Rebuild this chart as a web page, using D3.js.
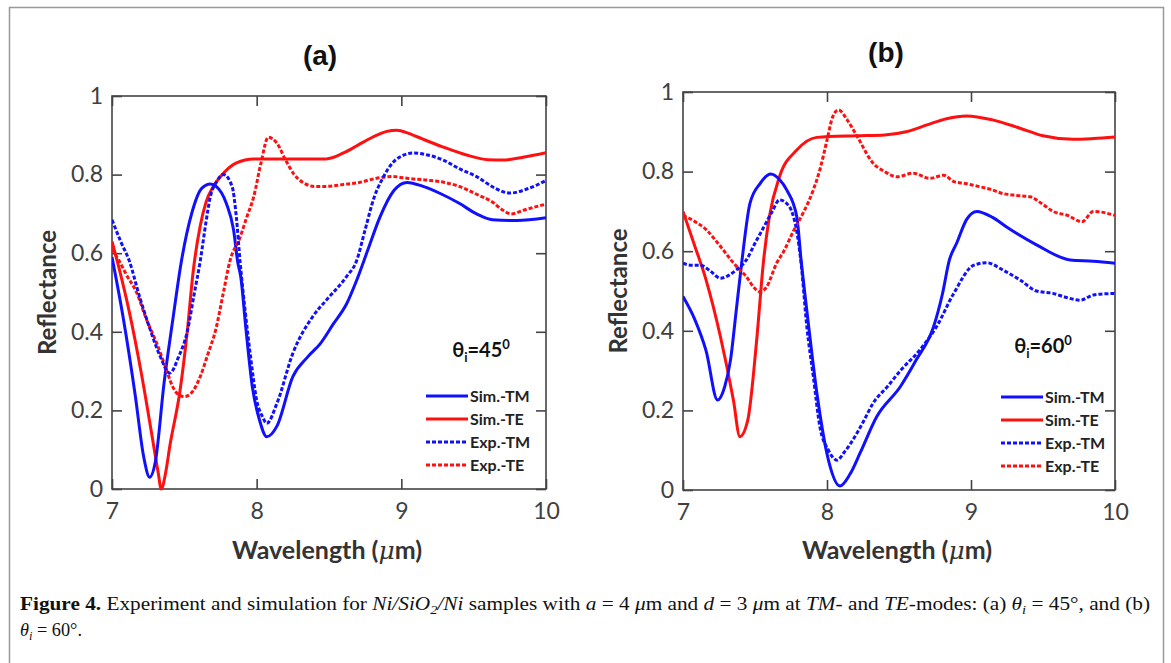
<html>
<head>
  <meta charset="utf8">
  <title>Figure 4</title>
  <style>
  * { margin: 0; padding: 0; }
  body { background: #fff; }
  .frame { fill: none; stroke: #999; stroke-width: 1.5px; }
  .box { fill: none; stroke: #444; stroke-width: 1.6px; }
  .axis path { display: none; }
  .axis line { stroke: #444; stroke-width: 1.6px; }
  .axis text { font-family: Lato, sans-serif; font-size: 23px; fill: #404040; }
  .curve { fill: none; stroke-width: 3px; }
  .dotted { stroke-dasharray: 4 2; }
  </style>
</head>
<body>
<script src="https://cdn.jsdelivr.net/npm/d3@7"></script>
<script>

// ---- data ----
var xTicks = [7, 8, 9, 10]
var yTicks = [0, 0.2, 0.4, 0.6, 0.8, 1]
var legendLabels = ['Sim.-TM', 'Sim.-TE', 'Exp.-TM', 'Exp.-TE']

// (a) theta = 45
var simTM_a_x = [7.00,7.08,7.16,7.22,7.26,7.30,7.36,7.42,7.48,7.55,7.62,7.68,7.72,7.79,7.84,7.87,7.89,7.925,7.97,8.02,8.07,8.14,8.25,8.35,8.44,8.53,8.62,8.69,8.77,8.85,8.95,9.04,9.15,9.28,9.40,9.52,9.63,9.80,10.0]
var simTM_a_y = [0.59,0.43,0.24,0.08,0.03,0.07,0.27,0.43,0.58,0.70,0.765,0.776,0.77,0.727,0.66,0.575,0.54,0.41,0.26,0.175,0.133,0.16,0.286,0.335,0.37,0.42,0.47,0.53,0.61,0.69,0.76,0.78,0.77,0.75,0.727,0.70,0.685,0.683,0.69]

var simTE_a_x = [7.00,7.05,7.12,7.20,7.27,7.32,7.34,7.37,7.40,7.47,7.52,7.56,7.61,7.65,7.70,7.75,7.86,7.98,8.20,8.48,8.60,8.70,8.80,8.90,8.97,9.05,9.15,9.29,9.45,9.60,9.70,9.85,10.0]
var simTE_a_y = [0.63,0.56,0.45,0.30,0.15,0.04,0.0,0.04,0.11,0.25,0.40,0.55,0.67,0.73,0.77,0.795,0.83,0.84,0.84,0.84,0.855,0.875,0.895,0.91,0.913,0.905,0.89,0.87,0.85,0.838,0.837,0.845,0.856]

var expTM_a_x = [7.00,7.06,7.12,7.19,7.26,7.33,7.40,7.46,7.52,7.57,7.61,7.65,7.68,7.72,7.77,7.83,7.86,7.885,7.92,7.96,8.00,8.04,8.07,8.14,8.25,8.39,8.48,8.62,8.69,8.75,8.81,8.87,8.94,9.02,9.08,9.18,9.29,9.40,9.52,9.65,9.75,9.88,10.0]
var expTM_a_y = [0.685,0.63,0.58,0.49,0.41,0.34,0.295,0.336,0.40,0.50,0.58,0.68,0.744,0.78,0.80,0.77,0.69,0.58,0.455,0.33,0.226,0.184,0.167,0.218,0.345,0.44,0.48,0.54,0.58,0.66,0.74,0.79,0.83,0.85,0.855,0.85,0.837,0.815,0.795,0.765,0.753,0.765,0.785]

var expTE_a_x = [7.00,7.05,7.10,7.17,7.24,7.31,7.37,7.42,7.46,7.50,7.55,7.61,7.66,7.72,7.77,7.815,7.885,7.93,7.98,8.03,8.08,8.14,8.20,8.26,8.32,8.40,8.48,8.60,8.71,8.82,8.94,9.05,9.175,9.30,9.40,9.52,9.63,9.70,9.76,9.85,10.0]
var expTE_a_y = [0.61,0.58,0.545,0.50,0.43,0.37,0.31,0.26,0.24,0.235,0.245,0.286,0.34,0.41,0.50,0.58,0.64,0.69,0.744,0.83,0.895,0.88,0.837,0.80,0.78,0.77,0.77,0.775,0.78,0.79,0.795,0.79,0.786,0.78,0.77,0.75,0.73,0.71,0.70,0.71,0.725]

// (b) theta = 60
var simTM_b_x = [7.00,7.08,7.16,7.24,7.29,7.33,7.37,7.41,7.465,7.535,7.61,7.67,7.72,7.79,7.82,7.87,7.93,8.01,8.09,8.16,8.23,8.345,8.51,8.62,8.74,8.80,8.85,8.90,8.97,9.04,9.15,9.25,9.455,9.69,9.85,10.0]
var simTM_b_y = [0.486,0.43,0.35,0.226,0.26,0.327,0.452,0.578,0.72,0.77,0.794,0.78,0.754,0.687,0.578,0.42,0.243,0.075,0.01,0.04,0.093,0.184,0.26,0.327,0.41,0.49,0.578,0.62,0.68,0.70,0.685,0.66,0.616,0.578,0.575,0.57]

var simTE_b_x = [7.00,7.08,7.16,7.26,7.35,7.395,7.45,7.51,7.56,7.60,7.67,7.79,7.93,8.20,8.40,8.55,8.70,8.83,8.97,9.15,9.34,9.50,9.71,9.85,10.0]
var simTE_b_y = [0.70,0.615,0.528,0.385,0.226,0.134,0.176,0.37,0.578,0.687,0.787,0.854,0.886,0.89,0.892,0.90,0.918,0.933,0.94,0.93,0.909,0.89,0.881,0.883,0.887]

var expTM_b_x = [7.00,7.05,7.12,7.19,7.26,7.32,7.37,7.44,7.50,7.56,7.62,7.67,7.72,7.755,7.79,7.82,7.86,7.905,7.95,8.01,8.07,8.12,8.18,8.25,8.32,8.42,8.51,8.645,8.76,8.88,9.02,9.11,9.22,9.34,9.455,9.57,9.65,9.76,9.85,10.0]
var expTM_b_y = [0.57,0.565,0.565,0.55,0.532,0.54,0.553,0.578,0.62,0.66,0.70,0.729,0.72,0.70,0.65,0.57,0.41,0.285,0.16,0.10,0.075,0.095,0.126,0.17,0.218,0.26,0.30,0.352,0.41,0.494,0.565,0.571,0.553,0.528,0.50,0.494,0.485,0.477,0.49,0.494]

var expTE_b_x = [7.00,7.08,7.165,7.22,7.28,7.34,7.395,7.44,7.49,7.535,7.58,7.65,7.70,7.77,7.84,7.905,7.95,8.00,8.04,8.08,8.14,8.21,8.32,8.40,8.485,8.60,8.715,8.81,8.88,8.96,9.06,9.14,9.22,9.32,9.41,9.49,9.57,9.67,9.77,9.85,10.0]
var expTE_b_y = [0.69,0.675,0.653,0.63,0.603,0.575,0.553,0.536,0.51,0.498,0.51,0.57,0.60,0.653,0.70,0.754,0.804,0.879,0.938,0.955,0.93,0.888,0.821,0.80,0.787,0.796,0.783,0.791,0.775,0.77,0.762,0.755,0.745,0.74,0.737,0.72,0.70,0.69,0.674,0.70,0.69]

var W = 1171, H = 663

var svg = d3.select('body').append('svg')
  .attr('width', W).attr('height', H)
  .attr('viewBox', `0 0 ${W} ${H}`)
  .style('display', 'block')
  .style('font-family', 'Lato, sans-serif')

svg.append('rect').classed('frame', true)
  .attr('x', 9.5).attr('y', 7.5).attr('width', 1154).attr('height', 700)

function zip(xs, ys) { return xs.map((x, i) => [x, ys[i]]) }

function drawPanel(p) {
  var x = d3.scaleLinear().domain([7, 10]).range([p.left, p.right])
  var y = d3.scaleLinear().domain([0, 1]).range([p.bottom, p.top])
  var g = svg.append('g')

  // mirrored inward ticks on all four sides
  g.append('g').attr('class', 'axis')
    .attr('transform', `translate(0,${p.bottom})`)
    .call(d3.axisBottom(x).tickValues(xTicks).tickSizeInner(-10).tickSizeOuter(0).tickPadding(14).tickFormat(d3.format('d')))
  g.append('g').attr('class', 'axis')
    .attr('transform', `translate(0,${p.top})`)
    .call(d3.axisTop(x).tickValues(xTicks).tickSizeInner(-10).tickSizeOuter(0).tickFormat(''))
  g.append('g').attr('class', 'axis')
    .attr('transform', `translate(${p.left},0)`)
    .call(d3.axisLeft(y).tickValues(yTicks).tickSizeInner(-10).tickSizeOuter(0).tickPadding(9).tickFormat(d => d === 0 || d === 1 ? d : d.toFixed(1)))
  g.append('g').attr('class', 'axis')
    .attr('transform', `translate(${p.right},0)`)
    .call(d3.axisRight(y).tickValues(yTicks).tickSizeInner(-10).tickSizeOuter(0).tickFormat(''))

  g.append('rect').classed('box', true)
    .attr('x', p.left).attr('y', p.top)
    .attr('width', p.right - p.left).attr('height', p.bottom - p.top)

  var line = d3.line().x(d => x(d[0])).y(d => y(d[1])).curve(d3.curveMonotoneX)
  var clip = 'clip' + p.id
  g.append('clipPath').attr('id', clip).append('rect')
    .attr('x', p.left).attr('y', p.top - 2).attr('width', p.right - p.left).attr('height', p.bottom - p.top + 4)

  var series = [
    {d: p.simTE, c: '#ff1010', dot: false},
    {d: p.simTM, c: '#1010ff', dot: false},
    {d: p.expTE, c: '#ff1010', dot: true},
    {d: p.expTM, c: '#1010ff', dot: true}
  ]
  g.append('g').attr('clip-path', `url(#${clip})`)
    .selectAll('path').data(series).enter().append('path')
    .attr('class', s => 'curve' + (s.dot ? ' dotted' : ''))
    .attr('stroke', s => s.c)
    .attr('d', s => line(s.d))

  // panel title
  g.append('text').attr('x', p.titleX).attr('y', p.titleY)
    .attr('text-anchor', 'middle').attr('dy', '0.35em')
    .style('font-family', '"Liberation Sans", Arial, sans-serif')
    .style('font-weight', 'bold').style('font-size', '28px').style('fill', '#111')
    .text(p.title)

  // axis titles
  g.append('text')
    .attr('transform', `translate(${p.left - 64},${(p.top + p.bottom) / 2}) rotate(-90)`)
    .attr('text-anchor', 'middle').attr('dy', '0.35em')
    .style('font-weight', 'bold').style('font-size', '24px').style('fill', '#333')
    .text('Reflectance')
  var xl = g.append('text')
    .attr('x', (p.left + p.right) / 2 - 2).attr('y', 550)
    .attr('text-anchor', 'middle').attr('dy', '0.35em')
    .style('font-weight', 'bold').style('font-size', '25px').style('fill', '#333')
  xl.append('tspan').text('Wavelength (')
  xl.append('tspan').style('font-family', '"DejaVu Serif", serif').style('font-style', 'italic').style('font-weight', 'normal').text('\u03bc')
  xl.append('tspan').text('m)')

  // angle label
  var th = g.append('text').attr('x', p.thX).attr('y', p.thY)
    .attr('text-anchor', 'middle').attr('dy', '0.35em')
    .style('font-weight', 'bold').style('font-size', '20px').style('fill', '#111')
  th.append('tspan').text('\u03b8')
  th.append('tspan').attr('dy', 5).style('font-size', '13px').text('i')
  th.append('tspan').attr('dy', -5).text('=' + p.angle)
  th.append('tspan').attr('dy', -8).style('font-size', '13px').text('0')

  // legend
  var lg = g.append('g').attr('transform', `translate(${p.legX},${p.legY})`)
  var legStyle = [
    {c: '#1010ff', dot: false}, {c: '#ff1010', dot: false},
    {c: '#1010ff', dot: true}, {c: '#ff1010', dot: true}
  ]
  legendLabels.forEach((lab, i) => {
    var r = lg.append('g').attr('transform', `translate(0,${i * 23})`)
    r.append('line').attr('x1', 0).attr('x2', 42).attr('y1', 0).attr('y2', 0)
      .attr('class', 'curve' + (legStyle[i].dot ? ' dotted' : ''))
      .attr('stroke', legStyle[i].c)
    r.append('text').attr('x', 44).attr('dy', '0.35em')
      .style('font-weight', 'bold').style('font-size', '16px').style('fill', '#222')
      .text(lab)
  })
}

drawPanel({
  id: 'a', left: 112, right: 546, top: 96, bottom: 489,
  title: '(a)', titleX: 320, titleY: 55,
  angle: '45', thX: 481, thY: 350,
  legX: 426, legY: 396,
  simTM: zip(simTM_a_x, simTM_a_y), simTE: zip(simTE_a_x, simTE_a_y),
  expTM: zip(expTM_a_x, expTM_a_y), expTE: zip(expTE_a_x, expTE_a_y)
})

drawPanel({
  id: 'b', left: 683, right: 1115, top: 92, bottom: 490,
  title: '(b)', titleX: 886, titleY: 52,
  angle: '60', thX: 1043, thY: 346,
  legX: 1001, legY: 397,
  simTM: zip(simTM_b_x, simTM_b_y), simTE: zip(simTE_b_x, simTE_b_y),
  expTM: zip(expTM_b_x, expTM_b_y), expTE: zip(expTE_b_x, expTE_b_y)
})

// caption
var cap = svg.append('g')
  .style('font-family', '"Liberation Serif", "Times New Roman", serif')
  .style('font-size', '19px').style('fill', '#111')

var c1 = cap.append('text').attr('x', 20).attr('y', 610)
  .attr('textLength', 1130).attr('lengthAdjust', 'spacingAndGlyphs')
function seg(t, s, opts) {
  var sp = t.append('tspan').text(s)
  if (opts) {
    if (opts.i) sp.style('font-style', 'italic')
    if (opts.b) sp.style('font-weight', 'bold')
    if (opts.dy) sp.attr('dy', opts.dy).style('font-size', '13px')
  }
  return sp
}
seg(c1, 'Figure 4. ', {b: true})
seg(c1, 'Experiment and simulation for ')
seg(c1, 'Ni/SiO', {i: true})
seg(c1, '2', {i: true, dy: 4})
seg(c1, '/Ni', {i: true}).attr('dy', -4)
seg(c1, ' samples with ')
seg(c1, 'a', {i: true})
seg(c1, ' = 4 ')
seg(c1, '\u03bc', {i: true})
seg(c1, 'm and ')
seg(c1, 'd', {i: true})
seg(c1, ' = 3 ')
seg(c1, '\u03bc', {i: true})
seg(c1, 'm at ')
seg(c1, 'TM', {i: true})
seg(c1, '- and ')
seg(c1, 'TE', {i: true})
seg(c1, '-modes: (a) ')
seg(c1, '\u03b8', {i: true})
seg(c1, 'i', {i: true, dy: 4})
seg(c1, ' = 45\u00b0, and (b)').attr('dy', -4)

var c2 = cap.append('text').attr('x', 20).attr('y', 636)
  .attr('textLength', 62).attr('lengthAdjust', 'spacingAndGlyphs')
seg(c2, '\u03b8', {i: true})
seg(c2, 'i', {i: true, dy: 4})
seg(c2, ' = 60\u00b0.').attr('dy', -4)
</script>
</body>
</html>
